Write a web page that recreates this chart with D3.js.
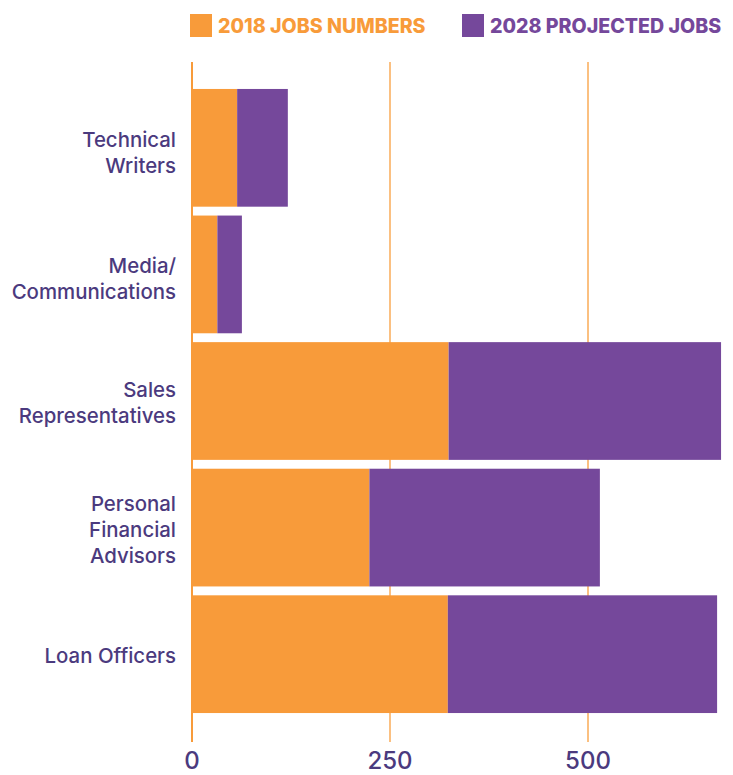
<!DOCTYPE html>
<html lang="en">
<head>
<meta charset="utf-8">
<title>Jobs chart</title>
<script src="https://cdn.jsdelivr.net/npm/d3@7"></script>
<style>
  body { margin: 0; background: #fff; }
  svg { display: block; font-family: Inter, "Noto Sans", sans-serif; }
</style>
</head>
<body>
<script>
// categories and the two stacked series (thousands of jobs)
var categories = [
  ['Technical', 'Writers'],
  ['Media/', 'Communications'],
  ['Sales', 'Representatives'],
  ['Personal', 'Financial', 'Advisors'],
  ['Loan Officers']
];
var jobs2018 = [57, 32, 324, 224, 323];
var jobs2028 = [64, 31, 344, 291, 340];
var seriesNames = ['2018 JOBS NUMBERS', '2028 PROJECTED JOBS'];
var tickValues = [0, 250, 500];

var w = 733, h = 775;
var orange = '#f89b3a', purple = '#75489b', textCol = '#4b3a7e';

var svg = d3.select('body').append('svg')
  .attr('width', w).attr('height', h);

var rows = categories.map(function(c, i) {
  return { key: i, a: jobs2018[i], b: jobs2028[i] };
});

var x = d3.scaleLinear().domain([0, 500]).range([192, 588]);
var y = d3.scaleBand()
  .domain(d3.range(categories.length))
  .range([82, 720])
  .paddingInner(0.07)
  .paddingOuter(0.055);

// gridlines
svg.selectAll('line.grid')
  .data(tickValues)
  .enter()
  .append('line')
  .attr('x1', function(d) { return x(d); })
  .attr('x2', function(d) { return x(d); })
  .attr('y1', 62)
  .attr('y2', 742)
  .attr('stroke', orange)
  .attr('stroke-opacity', function(d) { return d === 0 ? 1 : 0.85; })
  .attr('stroke-width', function(d) { return d === 0 ? 2 : 1.5; });

// tick labels
svg.selectAll('text.tick')
  .data(tickValues)
  .enter()
  .append('text')
  .attr('x', function(d) { return x(d); })
  .attr('y', 769)
  .attr('text-anchor', 'middle')
  .attr('fill', textCol)
  .attr('font-size', '24px')
  .attr('font-weight', 500)
  .text(function(d) { return d; });

var stack = d3.stack().keys(['a', 'b']);
var layers = stack(rows);
var colors = [orange, purple];

svg.selectAll('g.layer')
  .data(layers)
  .enter()
  .append('g')
  .attr('fill', function(d, i) { return colors[i]; })
  .selectAll('rect')
  .data(function(d) { return d; })
  .enter()
  .append('rect')
  .attr('x', function(d) { return x(d[0]); })
  .attr('y', function(d) { return y(d.data.key); })
  .attr('width', function(d) { return x(d[1]) - x(d[0]); })
  .attr('height', y.bandwidth());

// category labels
var lineH = 26;
svg.selectAll('text.cat')
  .data(categories)
  .enter()
  .append('text')
  .attr('text-anchor', 'end')
  .attr('fill', textCol)
  .attr('font-size', '20.4px')
  .attr('font-weight', 500)
  .each(function(lines, i) {
    var cy = y(i) + y.bandwidth() / 2;
    var first = cy - (lines.length - 1) * lineH / 2 + 9;
    if (lines.length === 2 && i < 2) first += 3;
    d3.select(this).selectAll('tspan')
      .data(lines)
      .enter()
      .append('tspan')
      .attr('x', 176)
      .attr('y', function(d, j) { return first + j * lineH; })
      .text(function(d) { return d; });
  });

// legend
var legendX = [190, 462];
seriesNames.forEach(function(name, i) {
  svg.append('rect')
    .attr('x', legendX[i]).attr('y', 14)
    .attr('width', 22).attr('height', 23)
    .attr('fill', colors[i]);
  svg.append('text')
    .attr('x', legendX[i] + 28).attr('y', 33)
    .attr('fill', colors[i])
    .attr('font-size', '19.6px')
    .attr('font-weight', 800)
    .text(name);
});
</script>
</body>
</html>
